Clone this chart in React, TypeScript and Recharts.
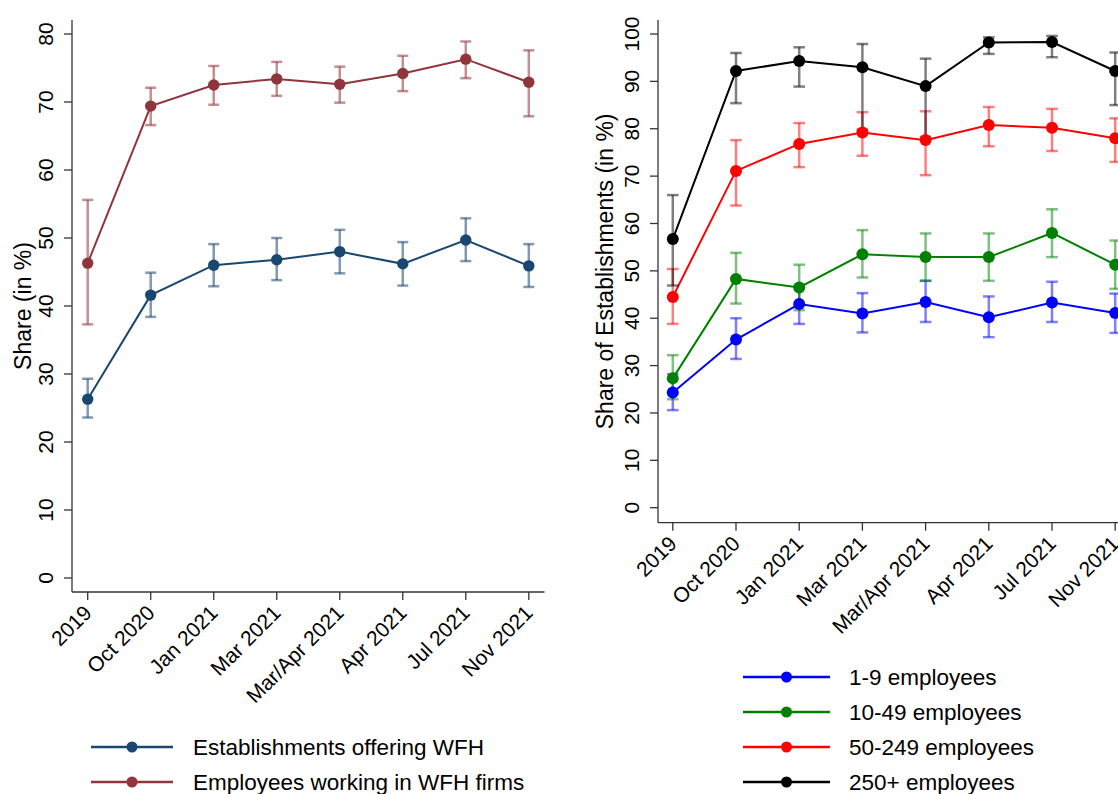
import React from 'react';
import { LineChart, Line, XAxis, YAxis, ErrorBar, Legend } from 'recharts';

const FONT = '"Liberation Sans", Arial, sans-serif';

// survey waves (x categories)
const periods = ['2019', 'Oct 2020', 'Jan 2021', 'Mar 2021', 'Mar/Apr 2021', 'Apr 2021', 'Jul 2021', 'Nov 2021'];

// left panel: share (in %) with 95% CI bounds
const estWfh = [26.3, 41.6, 46.0, 46.8, 48.0, 46.2, 49.7, 45.9];
const estLow = [23.6, 38.4, 42.9, 43.8, 44.8, 43.0, 46.6, 42.8];
const estHigh = [29.3, 44.9, 49.1, 50.0, 51.2, 49.4, 52.9, 49.1];

const empWfh = [46.3, 69.4, 72.5, 73.4, 72.6, 74.2, 76.3, 72.9];
const empLow = [37.3, 66.6, 69.6, 70.9, 69.9, 71.6, 73.5, 67.9];
const empHigh = [55.6, 72.1, 75.3, 75.9, 75.2, 76.8, 78.9, 77.6];

// right panel: share of establishments by firm size
const size1to9 = [24.3, 35.5, 43.0, 41.0, 43.4, 40.2, 43.3, 41.1];
const size1to9Low = [20.6, 31.4, 38.8, 37.0, 39.2, 36.0, 39.2, 36.9];
const size1to9High = [28.2, 40.0, 46.8, 45.3, 47.9, 44.6, 47.7, 45.2];

const size10to49 = [27.3, 48.3, 46.5, 53.5, 52.9, 52.9, 58.0, 51.3];
const size10to49Low = [22.9, 43.1, 41.7, 48.6, 47.9, 47.9, 52.9, 46.2];
const size10to49High = [32.2, 53.8, 51.3, 58.6, 57.9, 57.9, 63.0, 56.4];

const size50to249 = [44.5, 71.1, 76.8, 79.2, 77.6, 80.8, 80.2, 78.0];
const size50to249Low = [38.8, 63.8, 71.9, 74.3, 70.2, 76.3, 75.3, 73.0];
const size50to249High = [50.4, 77.6, 81.2, 83.5, 83.7, 84.6, 84.2, 82.2];

const size250plus = [56.7, 92.2, 94.3, 93.0, 89.0, 98.2, 98.3, 92.2];
const size250plusLow = [46.9, 85.4, 88.9, 79.8, 78.3, 95.8, 95.1, 85.0];
const size250plusHigh = [66.0, 96.0, 97.2, 97.9, 94.8, 99.3, 99.6, 96.1];

const leftTicks = [0, 10, 20, 30, 40, 50, 60, 70, 80];
const rightTicks = [0, 10, 20, 30, 40, 50, 60, 70, 80, 90, 100];

const leftSeries = [
  { key: 'est', name: 'Establishments offering WFH', color: '#1a476f', vals: estWfh, lo: estLow, hi: estHigh },
  { key: 'emp', name: 'Employees working in WFH firms', color: '#90353b', vals: empWfh, lo: empLow, hi: empHigh },
];

const rightSeries = [
  { key: 's1', name: '1-9 employees', color: '#0000ff', vals: size1to9, lo: size1to9Low, hi: size1to9High },
  { key: 's2', name: '10-49 employees', color: '#008000', vals: size10to49, lo: size10to49Low, hi: size10to49High },
  { key: 's3', name: '50-249 employees', color: '#ff0000', vals: size50to249, lo: size50to249Low, hi: size50to249High },
  { key: 's4', name: '250+ employees', color: '#000000', vals: size250plus, lo: size250plusLow, hi: size250plusHigh },
];

// ErrorBar wants [below, above] distances from the value
function buildRows(series: any[]) {
  return periods.map((p, i) => {
    const row: any = { period: p };
    series.forEach((s) => {
      row[s.key] = s.vals[i];
      row[s.key + 'Err'] = [s.vals[i] - s.lo[i], s.hi[i] - s.vals[i]];
    });
    return row;
  });
}

const leftData = buildRows(leftSeries);
const rightData = buildRows(rightSeries);

function XTick(props: any) {
  const { x, y, payload } = props;
  const tx = x;
  const ty = y + 7;
  return (
    <text x={tx} y={ty} transform={`rotate(-45, ${tx}, ${ty})`} textAnchor="end" dominantBaseline="central"
      fontSize={21} fontFamily={FONT} fill="#000">
      {payload.value}
    </text>
  );
}

function YTick(props: any) {
  const { x, y, payload } = props;
  const tx = x - 9;
  return (
    <text x={tx} y={y} transform={`rotate(-90, ${tx}, ${y})`} textAnchor="middle" fontSize={21} fontFamily={FONT} fill="#000">
      {payload.value}
    </text>
  );
}

function YTitle(props: any) {
  const { viewBox, text, dx } = props;
  const cx = viewBox.x + dx;
  const cy = viewBox.y + viewBox.height / 2;
  return (
    <text x={cx} y={cy} transform={`rotate(-90, ${cx}, ${cy})`} textAnchor="middle" fontSize={23} fontFamily={FONT} fill="#000">
      {text}
    </text>
  );
}

function LegendBox({ series, lineLen, textX, gap }: { series: any[]; lineLen: number; textX: number; gap: number }) {
  return (
    <svg width={460} height={series.length * gap} style={{ display: 'block', overflow: 'visible' }}>
      {series.map((s, i) => {
        const cy = 17 + i * gap;
        return (
          <g key={s.key}>
            <line x1={0} x2={lineLen} y1={cy} y2={cy} stroke={s.color} strokeWidth={2.5} />
            <circle cx={lineLen / 2} cy={cy} r={5.5} fill={s.color} />
            <text x={textX} y={cy} dominantBaseline="central" fontSize={22.5} fontFamily={FONT} fill="#000">{s.name}</text>
          </g>
        );
      })}
    </svg>
  );
}

const axisStroke = { stroke: '#333', strokeWidth: 1.3 };

function App() {
  return (
    <div style={{ position: 'absolute', left: 0, top: 0, width: 1118, height: 794, overflow: 'hidden', background: '#fff' }}>
      <div style={{ position: 'absolute', left: 0, top: 0 }}>
        <LineChart width={560} height={794} data={leftData} margin={{ top: 20, right: 15.5, left: 0, bottom: 0 }}>
          <XAxis dataKey="period" height={202} padding={{ left: 15.7, right: 15.7 }} tickSize={8}
            axisLine={axisStroke} tickLine={axisStroke} tick={<XTick />} interval={0} />
          <YAxis type="number" width={72} domain={[-2.06, 82.06]} ticks={leftTicks} tickSize={8}
            axisLine={axisStroke} tickLine={axisStroke} tick={<YTick />} allowDataOverflow
            label={<YTitle text="Share (in %)" dx={31} />} />
          {leftSeries.map((s) => (
            <Line key={s.key} type="linear" dataKey={s.key} name={s.name} stroke={s.color} strokeWidth={2}
              dot={{ r: 5.7, fill: s.color, stroke: s.color, strokeWidth: 0 }} activeDot={false} isAnimationActive={false}>
              <ErrorBar dataKey={s.key + 'Err'} width={5.5} stroke={s.color} strokeWidth={2.5} strokeOpacity={0.55} />
            </Line>
          ))}
          <Legend layout="vertical" align="center" verticalAlign="middle"
            wrapperStyle={{ left: 91, top: 730, width: 460, height: 70 }}
            content={() => <LegendBox series={leftSeries} lineLen={82} textX={102} gap={35} />} />
        </LineChart>
      </div>
      <div style={{ position: 'absolute', left: 580, top: 0 }}>
        <LineChart width={560} height={794} data={rightData} margin={{ top: 20, right: 10, left: 0, bottom: 0 }}>
          <XAxis dataKey="period" height={271.3} padding={{ left: 14.8, right: 14.8 }} tickSize={8}
            axisLine={axisStroke} tickLine={axisStroke} tick={<XTick />} interval={0} />
          <YAxis type="number" width={78} domain={[-3.17, 102.96]} ticks={rightTicks} tickSize={8}
            axisLine={axisStroke} tickLine={axisStroke} tick={<YTick />} allowDataOverflow
            label={<YTitle text="Share of Establishments (in %)" dx={33} />} />
          {rightSeries.map((s) => (
            <Line key={s.key} type="linear" dataKey={s.key} name={s.name} stroke={s.color} strokeWidth={2}
              dot={{ r: 6, fill: s.color, stroke: s.color, strokeWidth: 0 }} activeDot={false} isAnimationActive={false}>
              <ErrorBar dataKey={s.key + 'Err'} width={5.8} stroke={s.color} strokeWidth={2.5} strokeOpacity={0.5} />
            </Line>
          ))}
          <Legend layout="vertical" align="center" verticalAlign="middle"
            wrapperStyle={{ left: 163, top: 660, width: 460, height: 140 }}
            content={() => <LegendBox series={rightSeries} lineLen={87} textX={106} gap={35} />} />
        </LineChart>
      </div>
    </div>
  );
}

export default App;
